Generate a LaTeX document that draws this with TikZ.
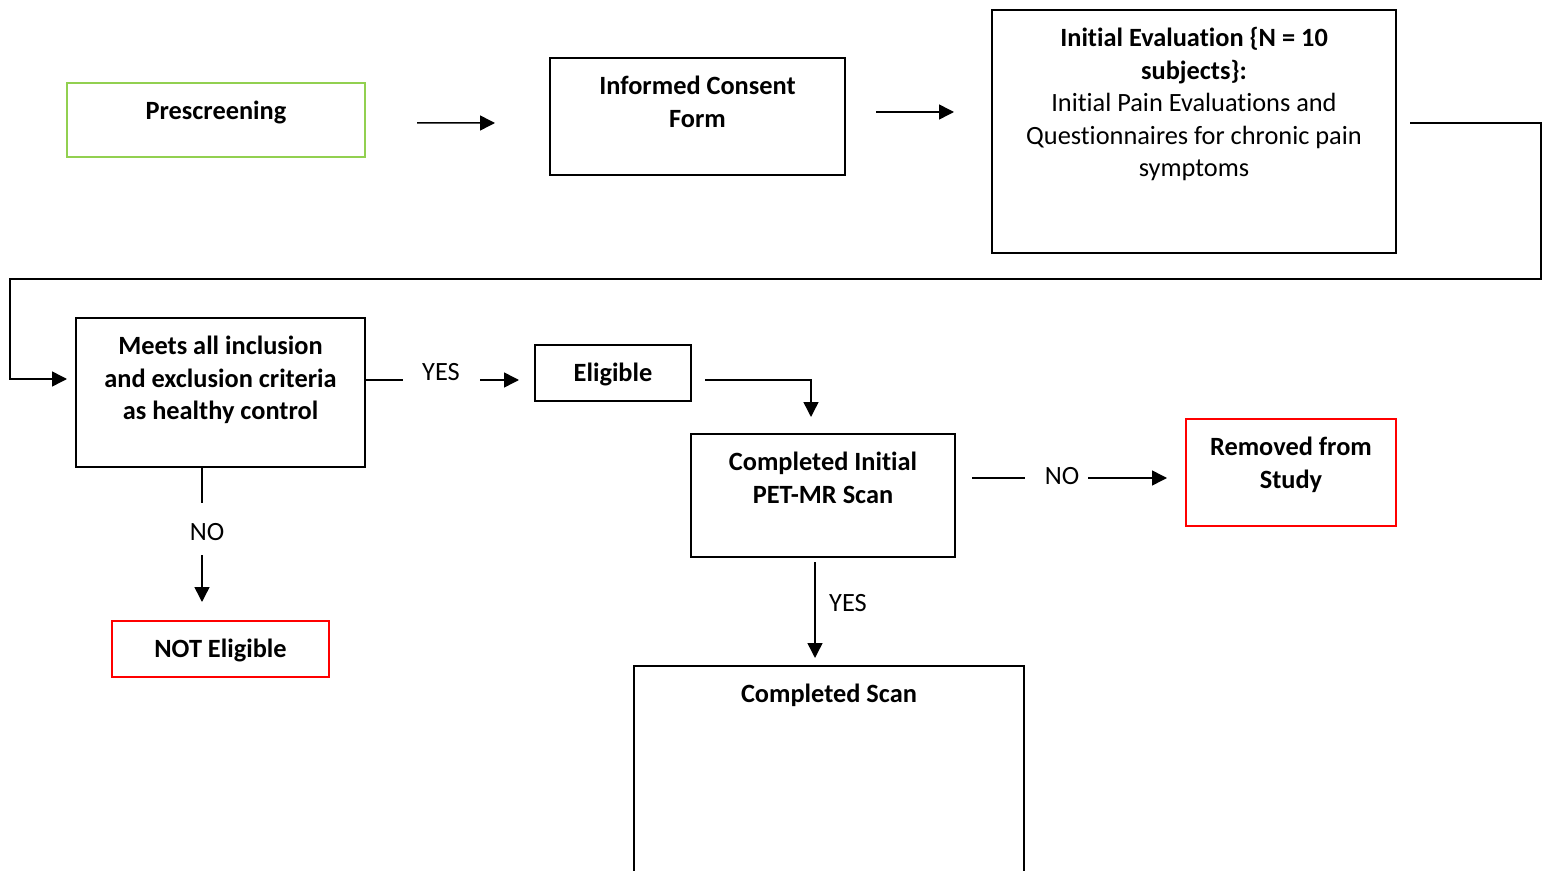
\documentclass[tikz,border=0pt]{standalone}
\usepackage{fontspec}
\setmainfont[Ligatures={NoCommon}]{Carlito}
\usetikzlibrary{arrows.meta,calc}
\definecolor{boxgreen}{HTML}{92D050}
\definecolor{boxred}{HTML}{FF0000}
\begin{document}
\begin{tikzpicture}[x=0.02cm,y=-0.02cm,
  box/.style={draw, line width=1pt, rectangle, inner sep=0pt, outer sep=0pt},
  txt/.style={font=\fontsize{15}{18.5}\selectfont, align=center, inner sep=0pt, anchor=north},
  lbl/.style={font=\fontsize{15}{18.5}\selectfont, inner sep=0pt},
  conn/.style={line width=0.85pt},
  arr/.style={line width=0.85pt, -{Triangle[length=8.5pt,width=8.5pt]}}]
\useasboundingbox (0,0) rectangle (1549,871);
% boxes
\node[box, draw=boxgreen, minimum width={298*0.02cm}, minimum height={74*0.02cm}] (pre) at (216,120) {};
\node[box, minimum width={295*0.02cm}, minimum height={117*0.02cm}] (icf) at (697.5,116.5) {};
\node[box, minimum width={404*0.02cm}, minimum height={243*0.02cm}] (ie) at (1194,131.5) {};
\node[box, minimum width={289*0.02cm}, minimum height={149*0.02cm}] (meets) at (220.5,392.5) {};
\node[box, minimum width={156*0.02cm}, minimum height={56*0.02cm}] (elig) at (613,373) {};
\node[box, minimum width={264*0.02cm}, minimum height={123*0.02cm}] (cip) at (823,495.5) {};
\node[box, draw=boxred, minimum width={210*0.02cm}, minimum height={107*0.02cm}] (rem) at (1291,472.5) {};
\node[box, draw=boxred, minimum width={217*0.02cm}, minimum height={56*0.02cm}] (note) at (220.5,649) {};
\node[box, minimum width={390*0.02cm}, minimum height={220*0.02cm}] (cs) at (829,776) {};
% texts
\node[txt] (pre-t) at ($(pre.north)+(0,13.5)$) {\strut\textbf{Prescreening}};
\node[txt] (icf-t) at ($(icf.north)+(0,13.5)$) {\strut\textbf{Informed Consent}\\\textbf{Form}};
\node[txt] (ie-t) at ($(ie.north)+(0,13.5)$) {\strut\textbf{Initial Evaluation \{N = 10}\\\textbf{subjects\}:}\\Initial Pain Evaluations and\\Questionnaires for chronic pain\\symptoms};
\node[txt] (meets-t) at ($(meets.north)+(0,13.5)$) {\strut\textbf{Meets all inclusion}\\\textbf{and exclusion criteria}\\\textbf{as healthy control}};
\node[txt] (elig-t) at ($(elig.north)+(0,13.5)$) {\strut\textbf{Eligible}};
\node[txt] (cip-t) at ($(cip.north)+(0,13.5)$) {\strut\textbf{Completed Initial}\\\textbf{PET-MR Scan}};
\node[txt] (rem-t) at ($(rem.north)+(0,13.5)$) {\strut\textbf{Removed from}\\\textbf{Study}};
\node[txt] (note-t) at ($(note.north)+(0,13.5)$) {\strut\textbf{NOT Eligible}};
\node[txt] (cs-t) at ($(cs.north)+(0,13.5)$) {\strut\textbf{Completed Scan}};
% labels
\node[lbl] (yes1) at (441,372) {YES};
\node[lbl] (no1) at (207,532) {NO};
\node[lbl] (no2) at (1062,476) {NO};
\node[lbl] (yes2) at (848,603) {YES};
% connectors
\draw[arr] ($(pre.east)+(52,3)$) -- ($(icf.west)+(-55,6.5)$);
\draw[arr] ($(icf.east)+(31,-4.5)$) -- ($(ie.west)+(-38,-19.5)$);
\draw[arr] ($(ie.east)+(14,-8.5)$) -- ++(131,0) -- ++(0,156) -- ++(-1531,0) -- ++(0,100) -- ($(meets.west)+(-9,-13.5)$);
\draw[conn] ($(meets.east)+(0,-12.5)$) -- ++(38,0);
\draw[arr] ($(elig.west)+(-55,7)$) -- ($(elig.west)+(-16,7)$);
\draw[arr] ($(elig.east)+(14,7)$) -| ($(cip.north)+(-12,-17)$);
\draw[conn] ($(meets.south)+(-18.5,0)$) -- ++(0,36);
\draw[arr] ($(note.north)+(-18.5,-66)$) -- ($(note.north)+(-18.5,-19)$);
\draw[conn] ($(cip.east)+(17,-17.5)$) -- ++(53,0);
\draw[arr] ($(rem.west)+(-98,5.5)$) -- ($(rem.west)+(-19,5.5)$);
\draw[arr] ($(cip.south)+(-8,5)$) -- ($(cs.north)+(-14,-8)$);
\end{tikzpicture}
\end{document}
